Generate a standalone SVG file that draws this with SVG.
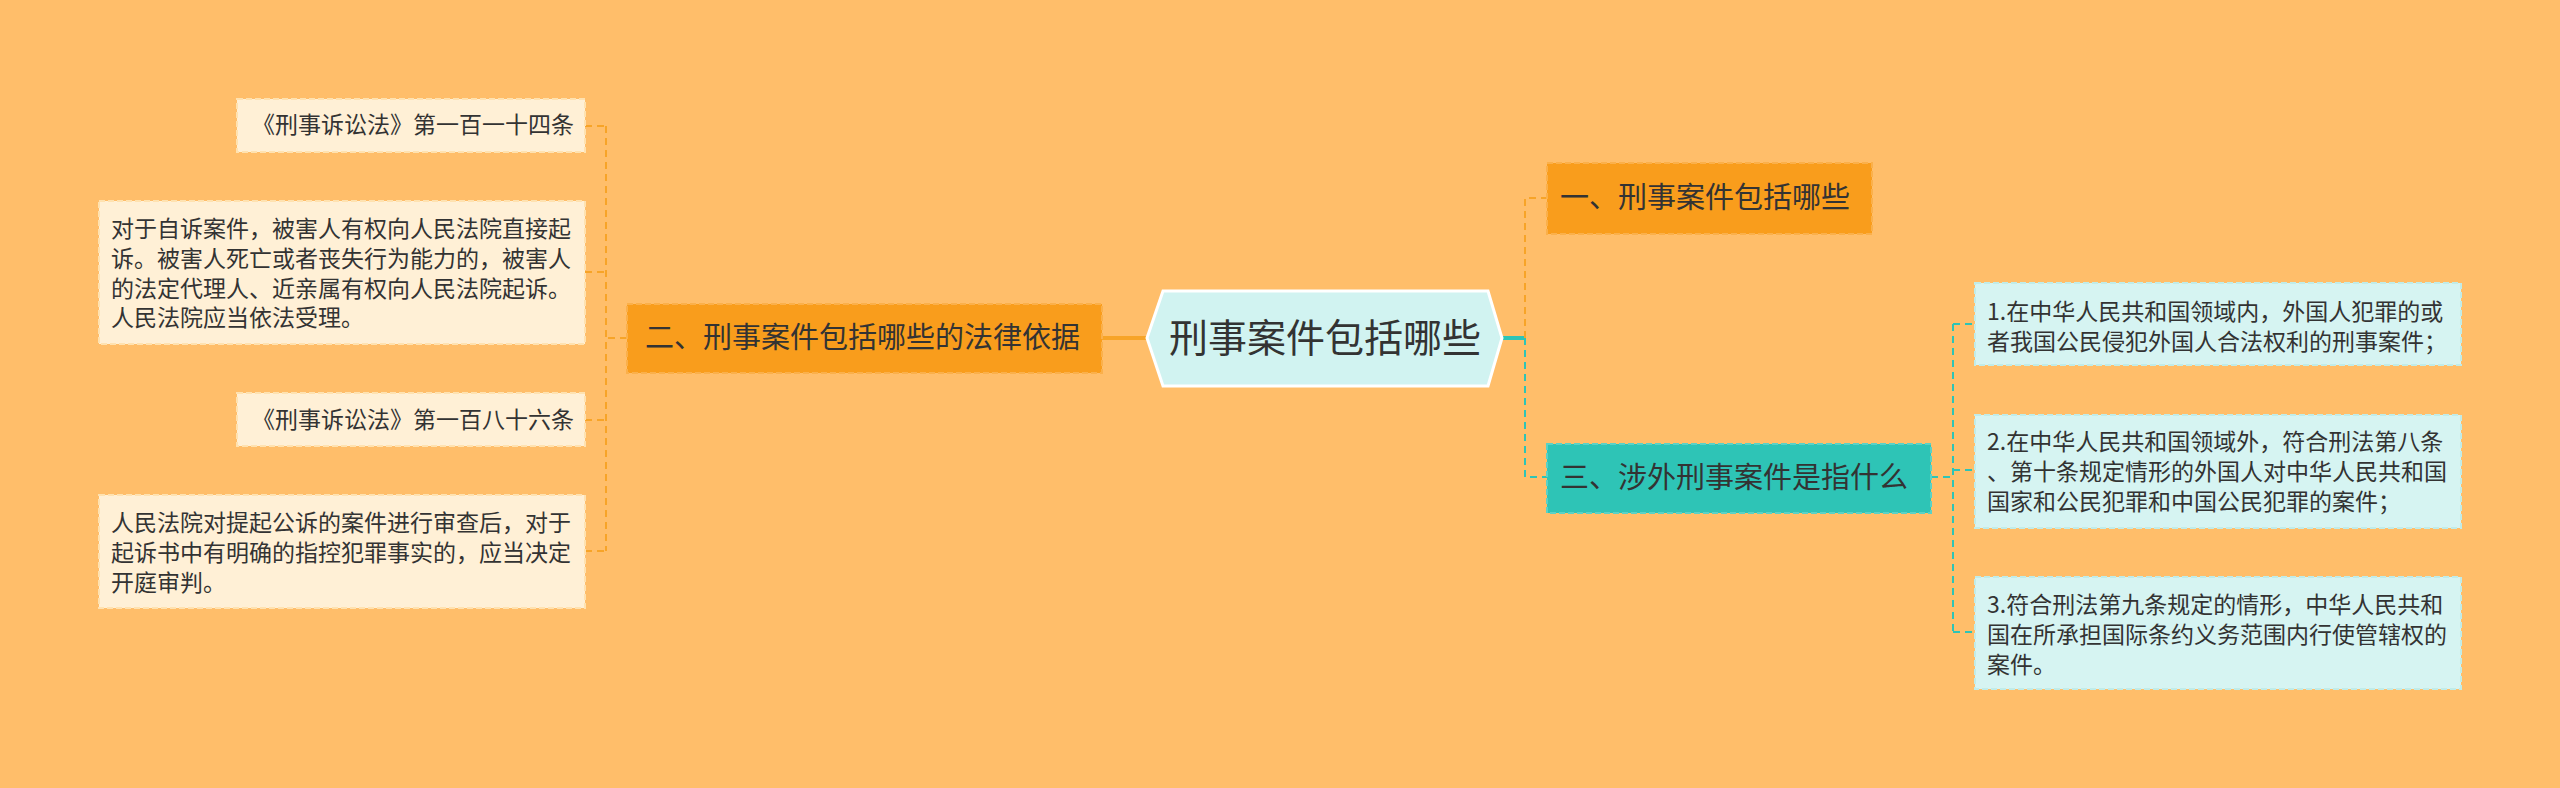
<svg xmlns="http://www.w3.org/2000/svg" width="2560" height="788" viewBox="0 0 2560 788">
<style>
text{font-family:"Noto Sans CJK SC","Noto Sans",sans-serif;fill:#333}
.leafL{fill:#fff0d6;stroke:#ffe2b0;stroke-width:2;stroke-dasharray:6 3}
.leafR{fill:#d6f4f2;stroke:#c1ece8;stroke-width:2;stroke-dasharray:6 3}
.s{font-size:23px}
.b{font-size:29px}
.oc{fill:none;stroke:#f7a428;stroke-width:2;stroke-dasharray:7 5}
.tc{fill:none;stroke:#2ec4b6;stroke-width:2;stroke-dasharray:7 5}
</style>
<rect width="2560" height="788" fill="#ffbe6a"/>
<g id="connectors">
<path class="oc" d="M627 338H606M606 126V551M585 126H606M585 272H606M585 420H606M585 551H606"/>
<path d="M1102 338H1147" stroke="#f7a428" stroke-width="4" fill="none"/>
<path d="M1502 338H1525" stroke="#2ec4b6" stroke-width="4" fill="none"/>
<path class="oc" d="M1525 338V198H1547"/>
<path class="tc" d="M1525 338V477H1547"/>
<path class="tc" d="M1931 477H1953M1953 324V632M1953 324H1975M1953 470H1975M1953 632H1975"/>
</g>
<g id="center">
<polygon points="1147,338 1163,291 1488,291 1502,338 1488,386 1163,386" fill="#d1f3f1" stroke="#fff" stroke-width="3"/>
<text x="1325" y="352" font-size="39" text-anchor="middle">刑事案件包括哪些</text>
</g>
<g id="b2">
<rect x="627" y="304" width="475" height="69" fill="#f99d1c" stroke="#fbb04a" stroke-width="2" stroke-dasharray="6 3"/>
<text class="b" x="645" y="348">二、刑事案件包括哪些的法律依据</text>
</g>
<g id="a1"><rect class="leafL" x="237" y="99" width="348" height="53"/><text class="s" x="574" y="133" text-anchor="end">《刑事诉讼法》第一百一十四条</text></g>
<g id="a2"><rect class="leafL" x="99" y="201" width="486" height="143"/>
<text class="s" x="111"><tspan x="111" y="237">对于自诉案件，被害人有权向人民法院直接起</tspan><tspan x="111" y="267">诉。被害人死亡或者丧失行为能力的，被害人</tspan><tspan x="111" y="297">的法定代理人、近亲属有权向人民法院起诉。</tspan><tspan x="111" y="326">人民法院应当依法受理。</tspan></text></g>
<g id="a3"><rect class="leafL" x="237" y="393" width="348" height="53"/><text class="s" x="574" y="428" text-anchor="end">《刑事诉讼法》第一百八十六条</text></g>
<g id="a4"><rect class="leafL" x="99" y="495" width="486" height="113"/>
<text class="s"><tspan x="111" y="531">人民法院对提起公诉的案件进行审查后，对于</tspan><tspan x="111" y="561">起诉书中有明确的指控犯罪事实的，应当决定</tspan><tspan x="111" y="591">开庭审判。</tspan></text></g>
<g id="b1">
<rect x="1547" y="163" width="325" height="71" fill="#f99d1c" stroke="#fbb04a" stroke-width="2" stroke-dasharray="6 3"/>
<text class="b" x="1560" y="208">一、刑事案件包括哪些</text>
</g>
<g id="b3">
<rect x="1547" y="444" width="384" height="69" fill="#2ec4b6" stroke="#5ad2c6" stroke-width="2" stroke-dasharray="6 3"/>
<text class="b" x="1560" y="488">三、涉外刑事案件是指什么</text>
</g>
<g id="c1"><rect class="leafR" x="1975" y="283" width="486" height="82"/>
<text class="s"><tspan x="1987" y="320">1.在中华人民共和国领域内，外国人犯罪的或</tspan><tspan x="1987" y="350">者我国公民侵犯外国人合法权利的刑事案件；</tspan></text></g>
<g id="c2"><rect class="leafR" x="1975" y="415" width="486" height="113"/>
<text class="s"><tspan x="1987" y="450">2.在中华人民共和国领域外，符合刑法第八条</tspan><tspan x="1987" y="480">、第十条规定情形的外国人对中华人民共和国</tspan><tspan x="1987" y="510">国家和公民犯罪和中国公民犯罪的案件；</tspan></text></g>
<g id="c3"><rect class="leafR" x="1975" y="577" width="486" height="112"/>
<text class="s"><tspan x="1987" y="613">3.符合刑法第九条规定的情形，中华人民共和</tspan><tspan x="1987" y="643">国在所承担国际条约义务范围内行使管辖权的</tspan><tspan x="1987" y="673">案件。</tspan></text></g>
</svg>
